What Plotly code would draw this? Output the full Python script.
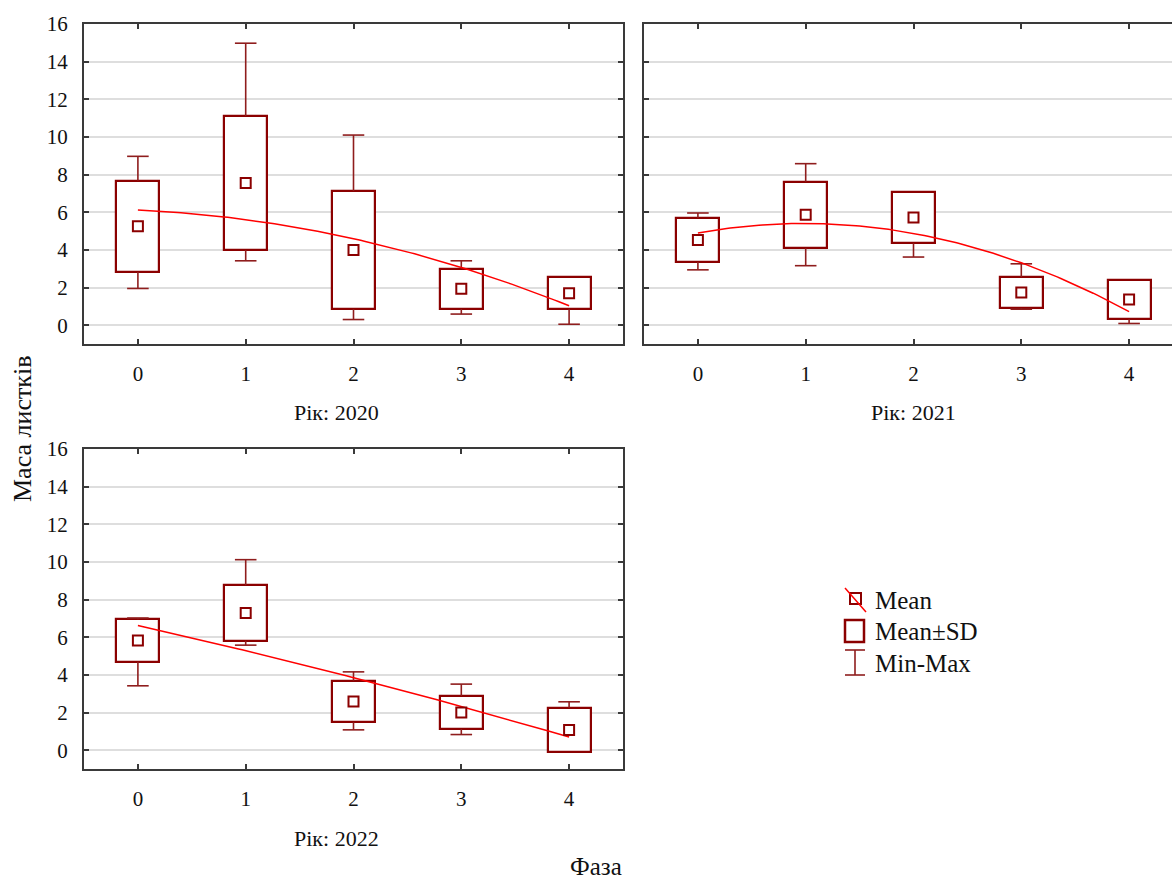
import numpy as np
import plotly.graph_objects as go

# Phase categories on the x axis
phases = [0, 1, 2, 3, 4]
tick_vals_y = [0, 2, 4, 6, 8, 10, 12, 14, 16]

# Leaf mass by year: mean, standard deviation, minimum and maximum per phase
mean_2020 = [5.25, 7.55, 3.99, 1.93, 1.70]
sd_2020 = [2.43, 3.56, 3.14, 1.07, 0.85]
min_2020 = [1.95, 3.42, 0.30, 0.59, 0.05]
max_2020 = [8.97, 14.98, 10.10, 3.42, 2.50]

mean_2021 = [4.53, 5.86, 5.72, 1.73, 1.37]
sd_2021 = [1.18, 1.76, 1.36, 0.83, 1.05]
min_2021 = [2.94, 3.16, 3.62, 0.85, 0.09]
max_2021 = [5.96, 8.58, 6.95, 3.26, 2.30]

mean_2022 = [5.83, 7.29, 2.59, 2.00, 1.07]
sd_2022 = [1.13, 1.48, 1.10, 0.88, 1.18]
min_2022 = [3.42, 5.58, 1.08, 0.83, 0.10]
max_2022 = [7.02, 10.12, 4.16, 3.51, 2.57]

years = ["Рік: 2020", "Рік: 2021", "Рік: 2022"]

W, H = 1172, 883
FONT = "Liberation Serif"
BOX = "#8b0000"
WHISK = "#8f1d1d"
FIT = "#ff0000"
AXC = "#3a3a3a"


def px(x):
    return x / W


def py(y):
    return 1 - y / H


fig = go.Figure()

panels = [
    ("x", "y", mean_2020, sd_2020, min_2020, max_2020),
    ("x2", "y2", mean_2021, sd_2021, min_2021, max_2021),
    ("x3", "y3", mean_2022, sd_2022, min_2022, max_2022),
]

for xa, ya, mean, sd, mn, mx in panels:
    mean = np.array(mean)
    sd = np.array(sd)
    lo = mean - sd
    hi = mean + sd

    # Mean±SD boxes
    fig.add_trace(go.Bar(
        x=phases, y=2 * sd, base=lo, width=0.4,
        marker=dict(color="white", line=dict(color=BOX, width=2.2)),
        xaxis=xa, yaxis=ya, showlegend=False, hoverinfo="skip",
    ))

    # Min-Max whiskers, drawn outward from the box edges
    wx, wy = [], []
    for p, l, h, a, b in zip(phases, lo, hi, mn, mx):
        if b > h:
            wx += [p, p, None, p - 0.1, p + 0.1, None]
            wy += [h, b, None, b, b, None]
        if a < l:
            wx += [p, p, None, p - 0.1, p + 0.1, None]
            wy += [l, a, None, a, a, None]
    fig.add_trace(go.Scatter(
        x=wx, y=wy, mode="lines", line=dict(color=WHISK, width=1.6),
        xaxis=xa, yaxis=ya, showlegend=False, hoverinfo="skip",
    ))

    # Quadratic trend of the means
    coef = np.polyfit(phases, mean, 2)
    xf = np.linspace(0, 4, 121)
    fig.add_trace(go.Scatter(
        x=xf, y=np.polyval(coef, xf), mode="lines",
        line=dict(color=FIT, width=1.5),
        xaxis=xa, yaxis=ya, showlegend=False, hoverinfo="skip",
    ))

    # Means
    fig.add_trace(go.Scatter(
        x=phases, y=mean, mode="markers",
        marker=dict(symbol="square", size=10, color="white",
                    line=dict(color=BOX, width=2)),
        xaxis=xa, yaxis=ya, showlegend=False, hoverinfo="skip",
    ))

tick_font = dict(family=FONT, size=21, color="#111")
common_x = dict(
    tickvals=phases, ticktext=[str(p) for p in phases],
    showline=True, linecolor=AXC, linewidth=2,
    ticks="inside", ticklen=5, tickwidth=2, tickcolor=AXC,
    showgrid=False, zeroline=False, tickfont=tick_font,
    ticklabelstandoff=10, fixedrange=True, automargin=False,
)
common_y = dict(
    range=[-1.0, 16.0], tickvals=tick_vals_y,
    showline=True, linecolor=AXC, linewidth=2,
    ticks="inside", ticklen=5, tickwidth=2, tickcolor=AXC,
    showgrid=True, gridcolor="#dedede", gridwidth=1.5,
    zeroline=False, tickfont=tick_font, ticklabelstandoff=10,
    fixedrange=True, automargin=False,
)

x1_dom = [px(84), px(623)]
x2_dom = [px(644), 1.0]
top_dom = [py(344), py(24)]
bot_dom = [py(769), py(449)]

# Second panel continues past the right edge of the page
x2_hi = -0.5 + (W - 644) / ((1183 - 644) / 5.0)

fig.update_layout(
    template="none",
    width=W, height=H,
    margin=dict(l=0, r=0, t=0, b=0, autoexpand=False),
    paper_bgcolor="white", plot_bgcolor="white",
    font=dict(family=FONT, color="#111"),
    bargap=0, barmode="overlay",
    xaxis=dict(domain=x1_dom, range=[-0.5, 4.5], anchor="y", mirror="ticks", **common_x),
    yaxis=dict(domain=top_dom, anchor="x", mirror="ticks", **common_y),
    xaxis2=dict(domain=x2_dom, range=[-0.5, x2_hi], anchor="y2", mirror="ticks", **common_x),
    yaxis2=dict(domain=top_dom, anchor="x2", mirror=False, showticklabels=False,
                **{k: v for k, v in common_y.items() if k not in ("tickfont", "ticklabelstandoff")}),
    xaxis3=dict(domain=x1_dom, range=[-0.5, 4.5], anchor="y3", mirror="ticks", **common_x),
    yaxis3=dict(domain=bot_dom, anchor="x3", mirror="ticks", **common_y),
    showlegend=False,
)

ann_font = dict(family=FONT, color="#111")
annotations = [
    dict(x=px(336), y=py(412), text=years[0], font=dict(size=22, **ann_font)),
    dict(x=px(913), y=py(412), text=years[1], font=dict(size=22, **ann_font)),
    dict(x=px(336), y=py(838), text=years[2], font=dict(size=22, **ann_font)),
    dict(x=px(596), y=py(866), text="Фаза", font=dict(size=25, **ann_font)),
    dict(x=px(22), y=py(429), text="Маса листків", textangle=-90,
         font=dict(size=26, **ann_font)),
    dict(x=px(873), y=py(600), text="Mean", xanchor="left", font=dict(size=25, **ann_font)),
    dict(x=px(873), y=py(631), text="Mean±SD", xanchor="left", font=dict(size=25, **ann_font)),
    dict(x=px(873), y=py(663), text="Min-Max", xanchor="left", font=dict(size=25, **ann_font)),
]
for a in annotations:
    a.setdefault("xanchor", "center")
    a.update(xref="paper", yref="paper", yanchor="middle", showarrow=False)
fig.update_layout(annotations=annotations)

# Legend glyphs
shapes = [
    dict(type="rect", x0=px(850), x1=px(861), y0=py(604), y1=py(593),
         line=dict(color=BOX, width=2), fillcolor="white"),
    dict(type="line", x0=px(845), y0=py(588), x1=px(866), y1=py(612),
         line=dict(color=FIT, width=1.5)),
    dict(type="rect", x0=px(845), x1=px(864), y0=py(642), y1=py(620),
         line=dict(color=BOX, width=2.5), fillcolor="white"),
    dict(type="line", x0=px(855), y0=py(650), x1=px(855), y1=py(675),
         line=dict(color=WHISK, width=1.6)),
    dict(type="line", x0=px(845), y0=py(650), x1=px(865), y1=py(650),
         line=dict(color=WHISK, width=1.6)),
    dict(type="line", x0=px(845), y0=py(675), x1=px(865), y1=py(675),
         line=dict(color=WHISK, width=1.6)),
]
for s in shapes:
    s.update(xref="paper", yref="paper")
fig.update_layout(shapes=shapes)

fig.write_html("out.html")
